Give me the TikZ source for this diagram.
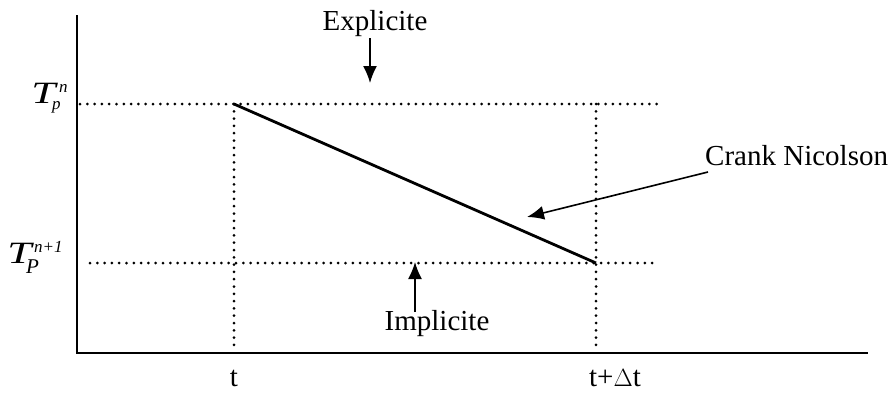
\documentclass[tikz,border=0pt]{standalone}
\usepackage{fontspec}
\setmainfont{Liberation Serif}
\usetikzlibrary{arrows.meta}
\begin{document}
\begin{tikzpicture}[x=1pt,y=-1pt,
  axis/.style={line width=2pt},
  dots/.style={line width=3pt,line cap=round,dash pattern=on 0pt off 7.3pt},
  solidline/.style={line width=2.8pt},
  pointer/.style={line width=1.6pt,-{Latex[length=17pt,width=14pt]}},
  lbl/.style={font=\fontsize{29}{34}\selectfont,inner sep=0pt},
  bigT/.style={font=\fontsize{31}{36}\selectfont\itshape,inner sep=0pt,anchor=base west,xscale=1.4},
  scr/.style={font=\fontsize{17}{20}\selectfont\itshape,inner sep=0pt,anchor=base west},
  every node/.style={inner sep=0pt}]
\useasboundingbox (0,0) rectangle (896,394);
% axes
\coordinate (O) at (77,353);
\coordinate (ytop) at (77,15);
\coordinate (xend) at (868,353);
\draw[axis] (ytop) -- (O) -- (xend);
% key points
\coordinate (A) at (234,104);
\coordinate (B) at (596,263);
\coordinate (topL) at (80,104);
\coordinate (topR) at (657,104);
\coordinate (botL) at (90,263);
\coordinate (botR) at (657,263);
\coordinate (tA) at (234,348);
\coordinate (Bt) at (596,104);
\coordinate (tB) at (596,348);
\draw[dots] (topL) -- (topR);
\draw[dots] (botL) -- (botR);
\draw[dots] (A) -- (tA);
\draw[dots] (Bt) -- (tB);
\draw[solidline] (A) -- (B);
% labels
\node[lbl,anchor=base] (expl) at (375,30) {Explicite};
\coordinate (explTail) at (370,38);
\coordinate (explTip) at (370,83);
\draw[pointer] (explTail) -- (explTip);
\node[lbl,anchor=base] (impl) at (437,330) {Implicite};
\coordinate (implTail) at (415,312);
\coordinate (implTip) at (415,262);
\draw[pointer] (implTail) -- (implTip);
\node[lbl,anchor=base west] (cn) at (705,165) {Crank Nicolson};
\coordinate (cnTail) at (708,172);
\coordinate (cnTip) at (527,217);
\draw[pointer] (cnTail) -- (cnTip);
\node[lbl,anchor=base] (t1) at (234,386) {t};
\node[lbl,anchor=base] (t2) at (615,386) {t+$\Delta$t};
% T_p^n
\node[bigT] (Tn) at (31,103) {T};
\node[scr] (Tnsup) at (59,92) {n};
\node[scr] (Tnsub) at (52,109) {p};
% T_P^{n+1}
\node[bigT] (Tn1) at (7,263) {T};
\node[scr] (Tn1sup) at (34,252) {n+1};
\node[scr,font=\fontsize{21}{24}\selectfont\itshape] (Tn1sub) at (26,273) {P};
\end{tikzpicture}
\end{document}
